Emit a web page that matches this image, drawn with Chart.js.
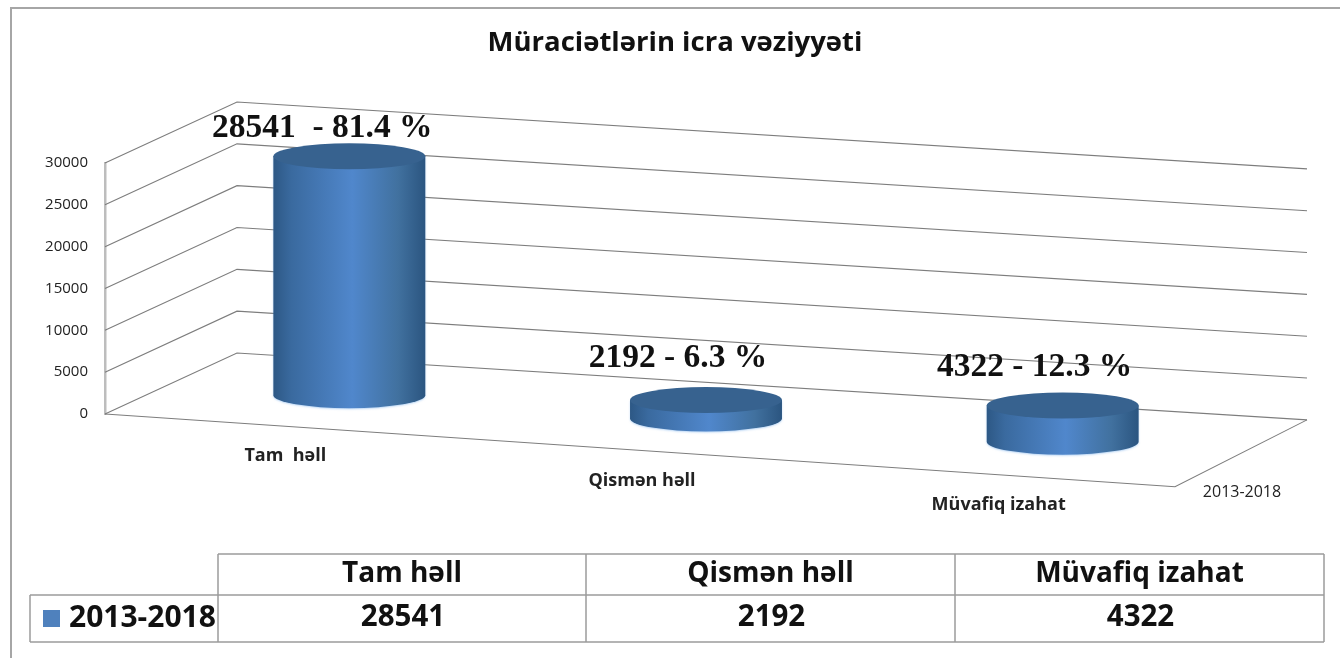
<!DOCTYPE html>
<html>
<head>
<meta charset="utf-8">
<title>Müraciətlərin icra vəziyyəti</title>
<style>
html,body{margin:0;padding:0;background:#fff;overflow:hidden}
canvas{display:block;filter:blur(0.45px)}
</style>
<script src="https://cdn.jsdelivr.net/npm/chart.js@4/dist/chart.umd.min.js"></script>
</head>
<body>
<canvas id="c" width="1340" height="658"></canvas>
<script>
const chartTitle = 'Müraciətlərin icra vəziyyəti';
const categories = ['Tam həll', 'Qismən həll', 'Müvafiq izahat'];
const axisLabels = ['Tam  həll', 'Qismən həll', 'Müvafiq izahat'];
const seriesName = '2013-2018';
const seriesValues = [28541, 2192, 4322];
const dataLabels = ['28541  - 81.4 %', '2192 - 6.3 %', '4322 - 12.3 %'];
const yTickStep = 5000;
const yMax = 30000;

const DEPTH_X = 132, DEPTH_Y = -61, SLOPE_FRONT = 0.068, SLOPE_BACK = 0.0625;
const GRID = '#7d7d7d', TABLE_LINE = '#9c9c9c', TEXT = '#111';
const UI_FONT = '"Open Sans", "Noto Sans", sans-serif';
const labelShift = [[-27, -28], [-28, -42], [-28, -38]];

const scene3d = {
  id: 'scene3d',
  project(chart, x, y, d) {
    const left = chart.chartArea.left;
    const slope = SLOPE_FRONT + (SLOPE_BACK - SLOPE_FRONT) * d;
    return [x + DEPTH_X * d, y + slope * (x - left) + DEPTH_Y * d];
  },
  line(ctx, pts) {
    ctx.beginPath();
    pts.forEach((p, i) => i ? ctx.lineTo(p[0], p[1]) : ctx.moveTo(p[0], p[1]));
    ctx.stroke();
  },
  beforeDatasetDraw(chart, args) {
    const ctx = chart.ctx, {left, right} = chart.chartArea;
    const yS = chart.scales.y;
    const P = (x, y, d) => this.project(chart, x, y, d);
    ctx.save();
    ctx.strokeStyle = GRID;
    ctx.lineWidth = 1.1;
    yS.ticks.forEach(t => {
      const y = yS.getPixelForValue(t.value);
      this.line(ctx, [P(left, y, 0), P(left, y, 1), P(right, y, 1)]);
    });
    const y0 = yS.getPixelForValue(0);
    this.line(ctx, [P(left, y0, 0), P(right, y0, 0), P(right, y0, 1)]);

    // cylinders from the bar elements computed by the library
    const meta = chart.getDatasetMeta(args.index);
    meta.data.forEach(bar => {
      const rx = bar.width / 2, ry = 13;
      const bot = P(bar.x, bar.base, 0.5);
      const top = P(bar.x, bar.y, 0.5);
      const cx = bot[0], xL = cx - rx, xR = cx + rx;
      const g = ctx.createLinearGradient(xL, 0, xR, 0);
      g.addColorStop(0, '#2d5885');
      g.addColorStop(0.12, '#3a6a9f');
      g.addColorStop(0.52, '#5087cc');
      g.addColorStop(0.82, '#41719f');
      g.addColorStop(1, '#2b5580');
      ctx.fillStyle = g;
      ctx.shadowColor = 'rgba(120,175,235,0.5)';
      ctx.shadowBlur = 2;
      ctx.shadowOffsetY = 1;
      ctx.beginPath();
      ctx.moveTo(xL, top[1]);
      ctx.lineTo(xL, bot[1]);
      ctx.ellipse(cx, bot[1], rx, ry, 0, Math.PI, 0, true);
      ctx.lineTo(xR, top[1]);
      ctx.closePath();
      ctx.fill();
      ctx.shadowColor = 'transparent';
      ctx.fillStyle = '#37628f';
      ctx.beginPath();
      ctx.ellipse(cx, top[1], rx, ry, 0, 0, Math.PI * 2);
      ctx.fill();
    });
    ctx.restore();
    return false;
  },
  afterDatasetsDraw(chart) {
    const ctx = chart.ctx, xS = chart.scales.x, yS = chart.scales.y;
    const meta = chart.getDatasetMeta(0);
    const y0 = yS.getPixelForValue(0);
    ctx.save();
    ctx.textAlign = 'center';
    ctx.textBaseline = 'middle';
    // category labels along the front edge
    ctx.fillStyle = '#222';
    ctx.font = 'bold 18px ' + UI_FONT;
    axisLabels.forEach((lab, i) => {
      const x = xS.getPixelForValue(i);
      const p = this.project(chart, x, y0, 0);
      ctx.fillText(lab, x + 2, p[1] + 30);
    });
    // series label on the depth axis
    ctx.font = '16px ' + UI_FONT;
    const corner = this.project(chart, chart.chartArea.right, y0, 0);
    ctx.fillText(seriesName, corner[0] + 67, corner[1] + 6);
    // value labels
    ctx.fillStyle = TEXT;
    ctx.font = 'bold 33.5px "Liberation Serif", serif';
    meta.data.forEach((bar, i) => {
      const top = this.project(chart, bar.x, bar.y, 0.5);
      ctx.fillText(dataLabels[i], top[0] + labelShift[i][0], top[1] + labelShift[i][1]);
    });
    ctx.restore();
  },
  afterDraw(chart) {
    const ctx = chart.ctx;
    ctx.save();
    // outer frame
    ctx.strokeStyle = '#a6a6a6';
    ctx.lineWidth = 2;
    ctx.beginPath();
    ctx.moveTo(11, 658); ctx.lineTo(11, 8); ctx.lineTo(1340, 8);
    ctx.stroke();
    // data table
    const cols = [218, 586, 955, 1324], L = 30, T = 554, M = 595, B = 642;
    ctx.strokeStyle = TABLE_LINE;
    ctx.lineWidth = 1.5;
    ctx.beginPath();
    ctx.moveTo(cols[0], T); ctx.lineTo(cols[3], T);
    ctx.moveTo(L, M); ctx.lineTo(cols[3], M);
    ctx.moveTo(L, B); ctx.lineTo(cols[3], B);
    ctx.moveTo(L, M); ctx.lineTo(L, B);
    cols.forEach(x => { ctx.moveTo(x, T); ctx.lineTo(x, B); });
    ctx.stroke();
    ctx.fillStyle = '#4f81bd';
    ctx.fillRect(43, 610, 17, 17);
    ctx.fillStyle = TEXT;
    ctx.textBaseline = 'middle';
    ctx.textAlign = 'left';
    ctx.font = 'bold 30px ' + UI_FONT;
    ctx.fillText(seriesName, 69, 618);
    ctx.textAlign = 'center';
    categories.forEach((cat, i) => {
      const cx = (cols[i] + cols[i + 1]) / 2;
      ctx.font = 'bold 28px ' + UI_FONT;
      ctx.fillText(cat, cx, 574);
      ctx.font = 'bold 29.5px ' + UI_FONT;
      ctx.fillText(String(seriesValues[i]), cx + 1, 618);
    });
    ctx.restore();
  }
};

new Chart(document.getElementById('c'), {
  type: 'bar',
  data: {
    labels: categories,
    datasets: [{
      label: seriesName,
      data: seriesValues,
      backgroundColor: '#4f81bd',
      categoryPercentage: 1,
      barPercentage: 0.426
    }]
  },
  plugins: [scene3d],
  options: {
    responsive: false,
    animation: false,
    events: [],
    layout: { padding: { left: 10, right: 0, top: 0, bottom: 244 } },
    plugins: {
      legend: { display: false },
      tooltip: { enabled: false },
      title: {
        display: true,
        text: chartTitle,
        color: TEXT,
        font: { family: UI_FONT, size: 27.5, weight: 'bold' },
        padding: { top: 27, bottom: 103 }
      }
    },
    scales: {
      x: {
        grid: { display: false },
        border: { display: false },
        ticks: { display: false },
        afterFit(s) { s.height = 0; }
      },
      y: {
        min: 0,
        max: yMax,
        grid: { display: false, drawTicks: false },
        border: { display: true, color: '#bdbdbd', width: 2.5 },
        ticks: {
          stepSize: yTickStep,
          padding: 17,
          color: '#222',
          font: { family: UI_FONT, size: 15 },
          callback: v => String(v)
        },
        afterFit(s) { s.width = 95; }
      },
      pad: {
        type: 'linear',
        position: 'right',
        grid: { display: false },
        border: { display: false },
        ticks: { display: false },
        afterFit(s) { s.width = 165; }
      }
    }
  }
});
</script>
</body>
</html>
